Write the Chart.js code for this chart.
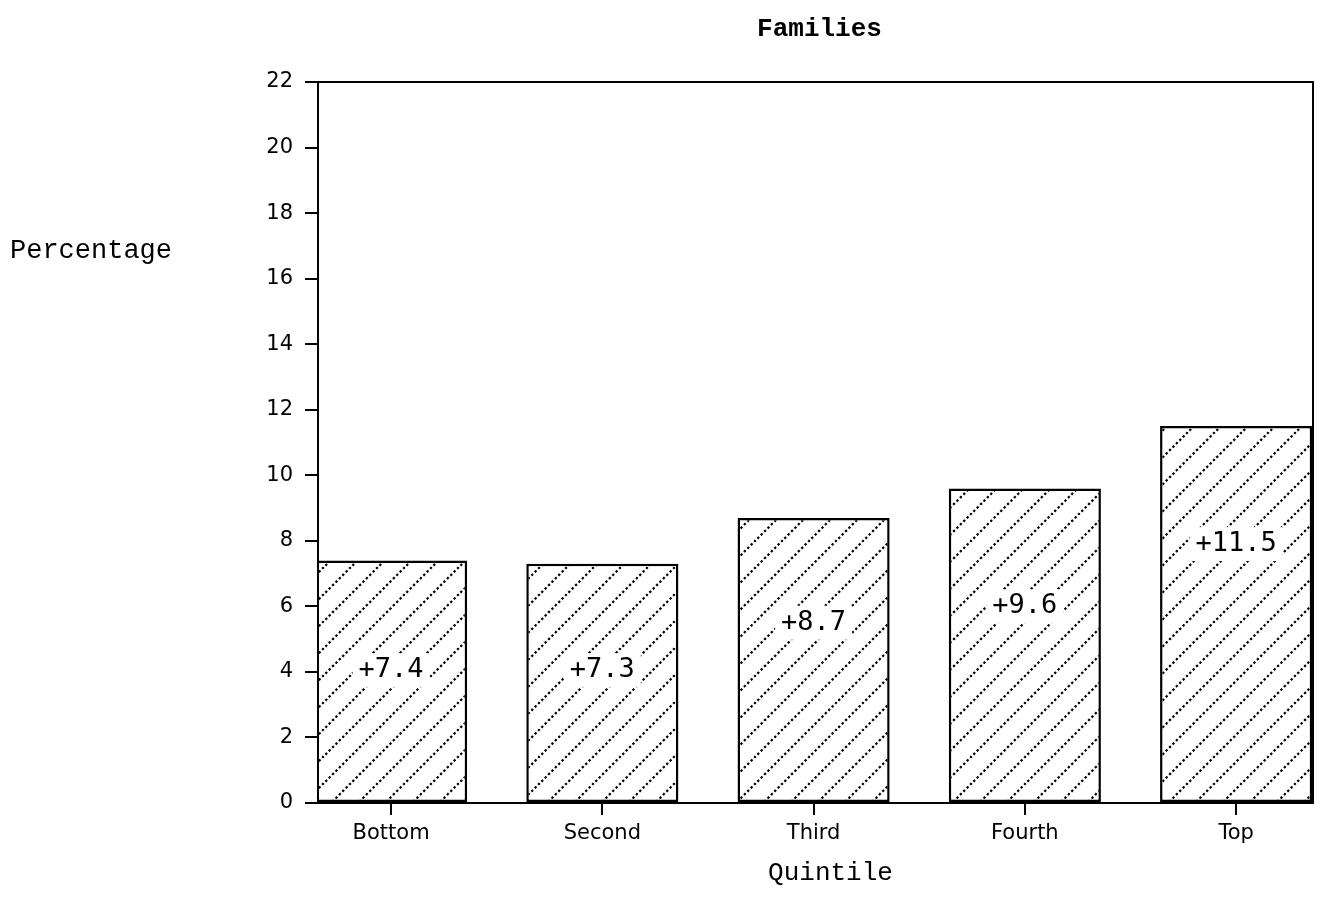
<!DOCTYPE html>
<html>
<head>
<meta charset="utf-8">
<script src="https://cdn.jsdelivr.net/npm/chart.js@4.4.0/dist/chart.umd.min.js"></script>
<style>
  html, body { margin: 0; padding: 0; background: #fff; }
  #wrap { width: 1321px; height: 914px; position: relative; }
</style>
</head>
<body>
<div id="wrap"><canvas id="c" width="1321" height="914"></canvas></div>
<script>
// ---- data ----
const categories = ["Bottom", "Second", "Third", "Fourth", "Top"];
const positions = [1, 2, 3, 4, 5];
const values = [7.4, 7.3, 8.7, 9.6, 11.5];
const valueLabels = ["+7.4", "+7.3", "+8.7", "+9.6", "+11.5"];
const labelHeights = [4.05, 4.05, 5.5, 6.0, 7.9];
const yTicks = [0, 2, 4, 6, 8, 10, 12, 14, 16, 18, 20, 22];

function makeHatch() {
  const s = 27;
  const c = document.createElement('canvas');
  c.width = s; c.height = s;
  const g = c.getContext('2d');
  g.fillStyle = '#fff';
  g.fillRect(0, 0, s, s);
  g.strokeStyle = '#000';
  g.lineWidth = 2.2;
  g.setLineDash([2.4, 2.4]);
  g.beginPath();
  g.moveTo(-2, s + 2); g.lineTo(s + 2, -2);
  g.moveTo(-2, 2); g.lineTo(2, -2);
  g.moveTo(s - 2, s + 2); g.lineTo(s + 2, s - 2);
  g.stroke();
  return document.getElementById('c').getContext('2d').createPattern(c, 'repeat');
}

const textPlugin = {
  id: 'textPlugin',
  afterDraw(chart) {
    const ctx = chart.ctx;
    const a = chart.chartArea;
    ctx.save();
    // frame
    ctx.strokeStyle = '#000';
    ctx.lineWidth = 2;
    ctx.strokeRect(a.left, a.top, a.right - a.left, a.bottom - a.top);
    ctx.fillStyle = '#000';
    ctx.textBaseline = 'middle';
    // title
    ctx.font = 'bold 26px "Liberation Mono", monospace';
    ctx.textAlign = 'center';
    ctx.fillText('Families', (a.left + a.right) / 2 + 4, 29);
    // x title
    ctx.font = '26px "Liberation Mono", monospace';
    ctx.fillText('Quintile', (a.left + a.right) / 2 + 15, 873);
    // y label
    ctx.font = '27px "Liberation Mono", monospace';
    ctx.textAlign = 'left';
    ctx.fillText('Percentage', 10, 251);
    ctx.restore();
  },
  afterDatasetsDraw(chart) {
    const ctx = chart.ctx;
    const meta = chart.getDatasetMeta(0);
    const ys = chart.scales.y;
    ctx.save();
    ctx.font = '27px "DejaVu Sans Mono", monospace';
    ctx.textAlign = 'center';
    ctx.textBaseline = 'middle';
    meta.data.forEach((bar, i) => {
      const y = ys.getPixelForValue(labelHeights[i]);
      const w = ctx.measureText(valueLabels[i]).width;
      ctx.fillStyle = '#fff';
      ctx.fillRect(bar.x - w / 2 - 6, y - 17, w + 12, 34);
      ctx.fillStyle = '#000';
      ctx.fillText(valueLabels[i], bar.x, y);
    });
    ctx.restore();
  }
};

const hatch = makeHatch();

new Chart(document.getElementById('c'), {
  type: 'bar',
  data: {
    datasets: [{
      data: positions.map((p, i) => ({ x: p, y: values[i] })),
      backgroundColor: hatch,
      borderColor: '#000',
      borderWidth: 2.5,
      borderSkipped: false,
      barPercentage: 0.72,
      categoryPercentage: 1.0
    }]
  },
  options: {
    responsive: false,
    animation: false,
    layout: { padding: { left: 0, right: 8, top: 82, bottom: 0 } },
    plugins: {
      legend: { display: false },
      tooltip: { enabled: false },
      title: { display: false }
    },
    scales: {
      x: {
        type: 'linear',
        offset: false,
        min: 0.654,
        max: 5.364,
        afterBuildTicks(scale) {
          scale.ticks = positions.map(v => ({ value: v }));
        },
        afterFit(scale) { scale.height = 111; },
        ticks: {
          color: '#000',
          font: { family: '"DejaVu Sans", sans-serif', size: 21 },
          padding: 6,
          maxRotation: 0,
          autoSkip: false,
          callback: (v) => categories[Math.round(v) - 1] || ''
        },
        grid: {
          offset: false,
          drawOnChartArea: false,
          color: '#000',
          lineWidth: 2,
          tickLength: 12
        },
        border: { display: true, color: '#000', width: 2 },
        title: { display: false }
      },
      y: {
        min: 0,
        max: 22,
        afterBuildTicks(scale) {
          scale.ticks = yTicks.map(v => ({ value: v }));
        },
        afterFit(scale) { scale.width = 318; },
        ticks: {
          color: '#000',
          font: { family: '"DejaVu Sans", sans-serif', size: 21 },
          padding: 12
        },
        grid: {
          drawOnChartArea: false,
          color: '#000',
          lineWidth: 2,
          tickLength: 13
        },
        border: { display: true, color: '#000', width: 2 }
      }
    }
  },
  plugins: [textPlugin]
});
</script>
</body>
</html>
